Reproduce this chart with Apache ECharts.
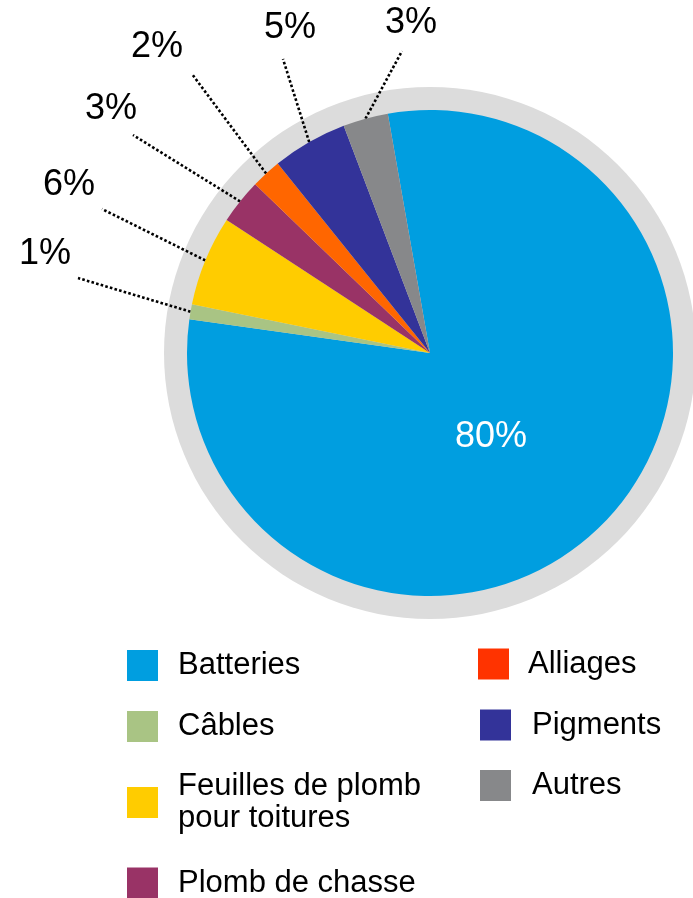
<!DOCTYPE html>
<html>
<head>
<meta charset="utf-8">
<script src="https://cdn.jsdelivr.net/npm/echarts@6/dist/echarts.min.js"></script>
<style>
html,body{margin:0;padding:0;background:#fff;}
#chart{width:693px;height:898px;}
</style>
</head>
<body>
<div id="chart"></div>
<script>
// ---- data ----
const categories = ['Batteries', 'Câbles', 'Feuilles de plomb pour toitures', 'Plomb de chasse', 'Alliages', 'Pigments', 'Autres'];
const values = [80, 1, 6, 3, 2, 5, 3];

// ---- styles ----
const sliceColors = ['#009EE0', '#A9C484', '#FFCC00', '#993366', '#FF6600', '#333399', '#87888A'];
const legendColors = ['#009EE0', '#A9C484', '#FFCC00', '#993366', '#FF3300', '#333399', '#87888A'];
const FONT = 'Liberation Sans, Arial, Helvetica, sans-serif';

// label placements (pixels): centre of label text, end point of leader line
const labelPos = [[491, 437], [45, 254], [69, 185], [111, 109], [157, 47], [290, 28], [411, 23]];
const lineEnd = [null, [78, 278], [102, 209], [133, 135], [192, 74], [283, 59], [402, 51]];

// legend placements: [left, centreY, textLeftPad]
const legendPos = [
  [127, 665.5, 15], [127, 726.5, 15], [127, 802.5, 15], [127, 883, 15],
  [478, 664, 14], [480, 725, 16], [480, 785.5, 16]
];

const chart = echarts.init(document.getElementById('chart'));

const pieData = categories.map((name, i) => {
  const item = { name: name, value: values[i], itemStyle: { color: sliceColors[i] } };
  if (i === 0) {
    item.label = { position: 'inside', color: '#ffffff' };
    item.labelLine = { show: false };
  }
  return item;
});

const legends = categories.map((name, i) => {
  const two = name.indexOf('Feuilles') === 0;
  const lh = two ? 32 : 31;
  const h = two ? 64 : 31;
  return {
    data: [{ name: name, itemStyle: { color: legendColors[i] } }],
    left: legendPos[i][0],
    top: legendPos[i][1] - h / 2,
    orient: 'vertical',
    padding: 0,
    itemWidth: 31,
    itemHeight: 31,
    icon: 'rect',
    selectedMode: false,
    formatter: (n) => two ? 'Feuilles de plomb\npour toitures' : n,
    textStyle: {
      fontFamily: FONT,
      fontSize: 31,
      color: '#000',
      lineHeight: lh,
      padding: [0, 0, 0, legendPos[i][2]]
    }
  };
});

chart.setOption({
  backgroundColor: '#ffffff',
  animation: false,
  legend: legends,
  series: [
    {
      type: 'pie',
      silent: true,
      z: 0,
      center: [430, 353],
      radius: [0, 266],
      label: { show: false },
      labelLine: { show: false },
      itemStyle: { color: '#DCDCDC', borderWidth: 0 },
      data: [{ name: '__ring', value: 1 }],
      legendHoverLink: false
    },
    {
      type: 'pie',
      z: 5,
      center: [430, 353],
      radius: [0, 243],
      startAngle: 100,
      clockwise: true,
      avoidLabelOverlap: false,
      itemStyle: { borderWidth: 0 },
      label: {
        show: true,
        position: 'outside',
        formatter: (p) => p.value + '%',
        fontFamily: FONT,
        fontSize: 36,
        color: '#000'
      },
      labelLine: {
        show: true,
        length: 20,
        length2: 0,
        lineStyle: { color: '#000', width: 2.6, type: [2.6, 2.2] }
      },
      labelLayout: function (params) {
        const i = params.dataIndex;
        const res = {
          x: labelPos[i][0],
          y: labelPos[i][1],
          align: 'center',
          verticalAlign: 'middle'
        };
        if (lineEnd[i] && params.labelLinePoints) {
          const p0 = params.labelLinePoints[0];
          res.labelLinePoints = [p0, lineEnd[i], lineEnd[i]];
        }
        return res;
      },
      data: pieData
    }
  ]
});
</script>
</body>
</html>
